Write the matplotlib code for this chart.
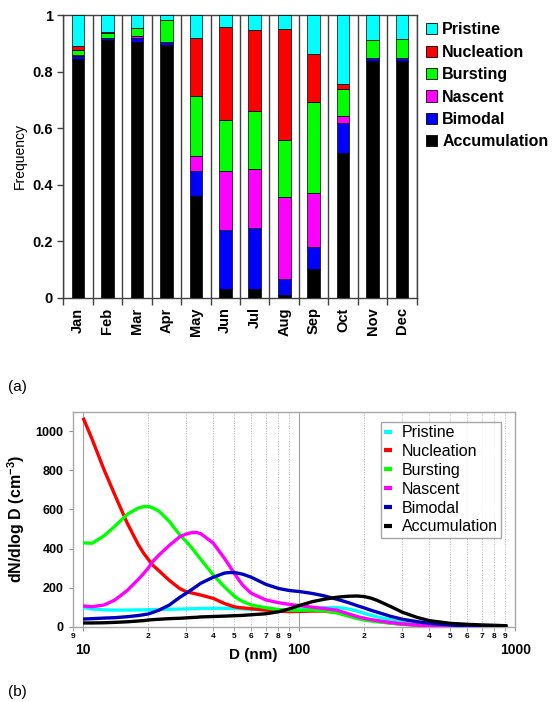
import matplotlib
matplotlib.use('Agg')
import matplotlib.pyplot as plt
from matplotlib.patches import Patch
from matplotlib.ticker import FixedLocator, FixedFormatter

plt.rcParams['font.family'] = ['Liberation Sans', 'DejaVu Sans']
plt.rcParams['mathtext.fontset'] = 'custom'
plt.rcParams['mathtext.rm'] = 'Liberation Sans'
plt.rcParams['mathtext.bf'] = 'Liberation Sans:bold'

# ---- panel (a): monthly frequency of each class ----
months = ['Jan', 'Feb', 'Mar', 'Apr', 'May', 'Jun', 'Jul', 'Aug', 'Sep', 'Oct', 'Nov', 'Dec']
accumulation = [0.845, 0.910, 0.905, 0.895, 0.360, 0.032, 0.032, 0.011, 0.100, 0.513, 0.837, 0.837]
bimodal      = [0.010, 0.008, 0.012, 0.008, 0.090, 0.207, 0.216, 0.056, 0.080, 0.104, 0.010, 0.010]
nascent      = [0.005, 0.002, 0.010, 0.002, 0.053, 0.208, 0.208, 0.291, 0.190, 0.027, 0.000, 0.000]
bursting     = [0.018, 0.018, 0.026, 0.076, 0.210, 0.182, 0.206, 0.200, 0.321, 0.093, 0.063, 0.069]
nucleation   = [0.012, 0.002, 0.000, 0.000, 0.205, 0.327, 0.285, 0.394, 0.172, 0.018, 0.000, 0.000]
pristine     = [0.110, 0.060, 0.047, 0.019, 0.082, 0.044, 0.053, 0.048, 0.137, 0.245, 0.090, 0.084]

# ---- panel (b): mean size distributions ----
diam = [10, 11, 12.5, 14, 16, 18, 19, 20, 21, 22.5, 25, 28, 30, 32, 33.5, 35, 40, 45, 47.5, 50,
        52.5, 55, 60, 70, 80, 90, 100, 115, 130, 150, 170, 185, 200, 215, 230, 265, 300, 350, 400,
        500, 600, 700, 800, 900, 920]
psd_pristine = [98, 90, 86, 85, 85, 86, 86, 87, 87, 88, 89, 90, 91, 92, 92, 93, 94, 94, 93, 93,
                92, 91, 89, 86, 84, 84, 88, 93, 97, 98, 90, 80, 68, 58, 50, 35, 24, 15, 9,
                3, 1, 0, 0, 0, 0]
psd_nucleation = [1069, 960, 803, 676, 530, 420, 378, 345, 315, 285, 238, 195, 179, 172, 167, 162, 145, 119, 110, 102,
                  98, 96, 92, 85, 80, 77, 78, 80, 80, 72, 58, 48, 40, 33, 28, 19, 13, 8, 5,
                  2, 1, 0, 0, 0, 0]
psd_bursting = [429, 427, 465, 513, 575, 607, 614, 616, 608, 590, 540, 470, 436, 400, 372, 345, 265, 205, 180, 157,
                140, 128, 111, 97, 88, 84, 84, 85, 82, 70, 53, 42, 34, 29, 25, 18, 12, 8, 5,
                2, 1, 0, 0, 0, 0]
psd_nascent = [106, 102, 111, 136, 185, 242, 270, 300, 333, 368, 415, 460, 474, 482, 482, 476, 428, 351, 312, 274,
               240, 210, 171, 137, 123, 114, 108, 100, 93, 84, 65, 52, 43, 36, 31, 21, 14, 9, 5,
               2, 1, 0, 0, 0, 0]
psd_bimodal = [39, 41, 44, 46, 51, 57, 61, 65, 73, 85, 110, 150, 171, 192, 207, 222, 253, 274, 277, 277,
               273, 268, 253, 217, 196, 185, 180, 170, 158, 140, 122, 108, 96, 84, 74, 53, 38, 26, 17,
               9, 4, 2, 1, 0, 0]
psd_accumulation = [19, 19, 20, 22, 25, 29, 31, 34, 36, 38, 41, 43, 45, 47, 48, 50, 52, 54, 55, 56,
                    57, 58, 61, 66, 76, 91, 108, 128, 140, 151, 156, 157, 154, 146, 134, 103, 74, 48, 31,
                    17, 12, 9, 7, 5, 5]

names = ['Pristine', 'Nucleation', 'Bursting', 'Nascent', 'Bimodal', 'Accumulation']
bar_colors = ['#00ffff', '#ff0000', '#00ff00', '#ff00ff', '#0000ff', '#000000']
line_colors = ['#00ffff', '#ff0000', '#00ff00', '#ff00ff', '#0000c0', '#000000']

fig = plt.figure(figsize=(5.52, 7.02), dpi=100)

# panel (a)
ax1 = fig.add_axes([0.1147, 0.5759, 0.6402, 0.4027])
stack = [accumulation, bimodal, nascent, bursting, nucleation, pristine]
stack_colors = bar_colors[::-1]
xpos = list(range(len(months)))
bottom = [0.0] * len(months)
for vals, col in zip(stack, stack_colors):
    ax1.bar(xpos, vals, width=0.43, bottom=bottom, color=col, edgecolor='black', linewidth=0.5, zorder=3)
    bottom = [b + v for b, v in zip(bottom, vals)]

for b in range(len(months) + 1):
    ax1.axvline(b - 0.5, color='#404040', lw=1.0, zorder=1)

ax1.set_xlim(-0.5, len(months) - 0.5)
ax1.set_ylim(0, 1)
ax1.set_xticks(xpos)
ax1.set_xticklabels(months, rotation=90, fontsize=10.5, fontweight='bold')
ax1.tick_params(axis='x', which='major', length=0, pad=7)
ax1.xaxis.set_minor_locator(FixedLocator([b - 0.5 for b in range(len(months) + 1)]))
ax1.tick_params(axis='x', which='minor', length=5, width=1, direction='out', color='#404040')
ax1.set_yticks([0, 0.2, 0.4, 0.6, 0.8, 1.0])
ax1.set_yticklabels(['0', '0.2', '0.4', '0.6', '0.8', '1'], fontsize=10.5, fontweight='bold')
ax1.tick_params(axis='y', length=4, width=1, direction='out', color='#404040')
ax1.set_ylabel('Frequency', fontsize=10)
ax1.yaxis.set_label_coords(-0.104, 0.5)
for sp in ax1.spines.values():
    sp.set_color('#404040')
    sp.set_linewidth(1.0)

handles = [Patch(facecolor=c, edgecolor='black', linewidth=0.6) for c in bar_colors]
fig.legend(handles, names, loc='upper left', bbox_to_anchor=(0.772, 0.968), frameon=False,
           prop={'size': 11.5, 'weight': 'bold'}, handlelength=0.7, handleheight=0.7,
           handletextpad=0.3, labelspacing=0.46, borderpad=0, borderaxespad=0)

# panel (b)
ax2 = fig.add_axes([0.1317, 0.1073, 0.8018, 0.3062])
series = [psd_pristine, psd_nucleation, psd_bursting, psd_nascent, psd_bimodal, psd_accumulation]
for vals, col, name in zip(series, line_colors, names):
    ax2.plot(diam, vals, color=col, lw=2.4, label=name, solid_capstyle='butt',
             solid_joinstyle='round', zorder=3)

ax2.set_xscale('log')
ax2.set_xlim(8.95, 1000)
ax2.set_ylim(0, 1100)

minor_pos = [9] + [m * 10 for m in range(2, 10)] + [m * 100 for m in range(2, 10)]
minor_lab = ['9'] + [str(m) for m in range(2, 10)] + [str(m) for m in range(2, 10)]
ax2.xaxis.set_major_locator(FixedLocator([10, 100, 1000]))
ax2.xaxis.set_major_formatter(FixedFormatter(['10', '100', '1000']))
ax2.xaxis.set_minor_locator(FixedLocator(minor_pos))
ax2.xaxis.set_minor_formatter(FixedFormatter(minor_lab))
ax2.tick_params(axis='x', which='major', length=3, pad=9, labelsize=10, color='#909090')
ax2.tick_params(axis='x', which='minor', length=3, pad=1.5, labelsize=6, color='#909090')
for lab in ax2.get_xticklabels(which='both'):
    lab.set_fontweight('bold')
ax2.set_yticks([0, 200, 400, 600, 800, 1000])
ax2.tick_params(axis='y', length=3, labelsize=9, color='#909090')
for lab in ax2.get_yticklabels():
    lab.set_fontweight('bold')

for m in minor_pos[1:]:
    ax2.axvline(m, color='#b0b0b0', lw=0.7, ls=':', zorder=1)
ax2.axvline(10, color='#a0a0a0', lw=0.8, zorder=1)
ax2.axvline(100, color='#a0a0a0', lw=0.8, zorder=1)
for sp in ax2.spines.values():
    sp.set_color('#a8a8a8')
    sp.set_linewidth(1.0)

ax2.set_xlabel('D (nm)', fontsize=11, fontweight='bold')
ax2.xaxis.set_label_coords(0.407, -0.10)
ax2.set_ylabel(r'dN/dlog D (cm$^{\mathbf{-3}}$)', fontsize=11.5, fontweight='bold')
ax2.yaxis.set_label_coords(-0.103, 0.5)

leg = ax2.legend(loc='upper left', bbox_to_anchor=(0.696, 0.952), fontsize=11.5, frameon=True,
                 fancybox=False, edgecolor='#909090', handlelength=0.5, handletextpad=0.6,
                 labelspacing=0.24, borderpad=0.2, borderaxespad=0)
leg.get_frame().set_linewidth(1.0)
for h in leg.get_lines():
    h.set_linewidth(3)

fig.text(8 / 552, 1 - 387 / 702, '(a)', fontsize=11, va='center', ha='left')
fig.text(8 / 552, 1 - 692 / 702, '(b)', fontsize=11, va='center', ha='left')

fig.savefig('out.png', dpi=100)
